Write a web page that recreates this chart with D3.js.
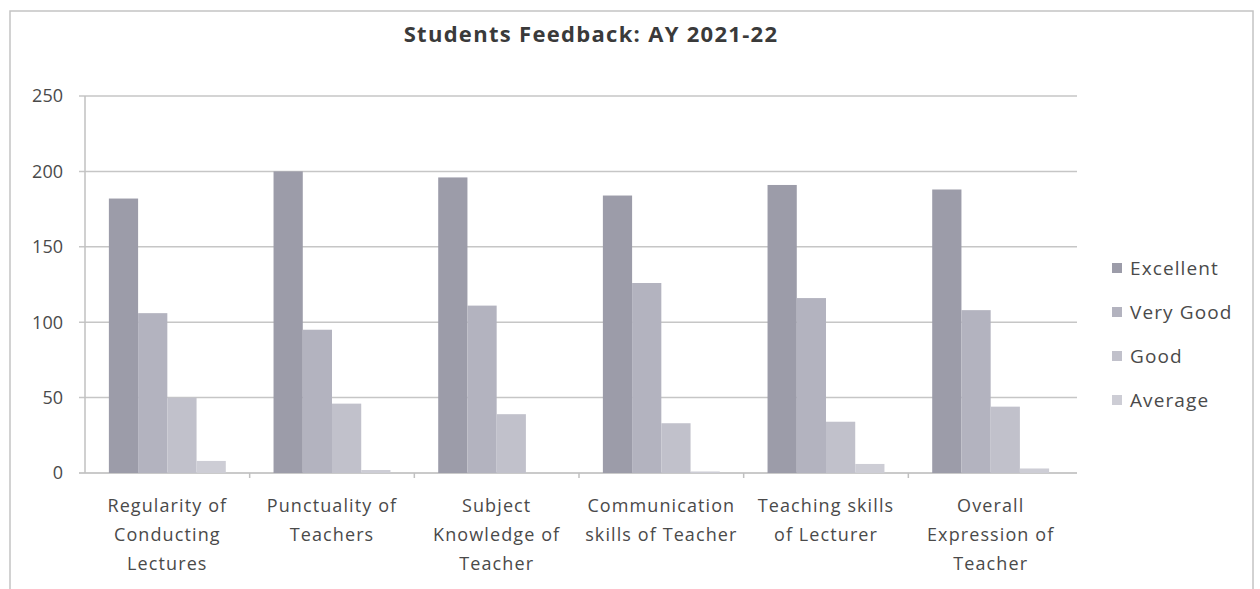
<!DOCTYPE html>
<html>
<head>
<meta charset="utf-8">
<script src="https://cdn.jsdelivr.net/npm/d3@7"></script>
<style>
    body { margin: 0; background: #fff; }
    svg { display: block; }
    text { font-family: "Open Sans", Lato, sans-serif; }
</style>
</head>
<body>
<script>
// ---------------- data ----------------
const categories = [
    ['Regularity of', 'Conducting', 'Lectures'],
    ['Punctuality of', 'Teachers'],
    ['Subject', 'Knowledge of', 'Teacher'],
    ['Communication', 'skills of Teacher'],
    ['Teaching skills', 'of Lecturer'],
    ['Overall', 'Expression of', 'Teacher']
]
const seriesNames = ['Excellent', 'Very Good', 'Good', 'Average']
const excellent = [182, 200, 196, 184, 191, 188]
const veryGood = [106, 95, 111, 126, 116, 108]
const good = [50, 46, 39, 33, 34, 44]
const average = [8, 2, 0, 1, 6, 3]
const yTicks = [0, 50, 100, 150, 200, 250]
const colors = ['#9c9ca9', '#b3b3bf', '#c1c1cb', '#cdcdd5']

const W = 1260, H = 589
const margin = { top: 96, right: 187, bottom: 116, left: 85 }
const width = W - margin.left - margin.right
const height = H - margin.top - margin.bottom

const values = [excellent, veryGood, good, average]
const keys = categories.map((c, i) => i)

const svg = d3.select('body').append('svg')
    .attr('width', W)
    .attr('height', H)

// outer frame
svg.append('rect')
    .attr('x', 10).attr('y', 11)
    .attr('width', 1243).attr('height', 600)
    .attr('fill', 'none')
    .attr('stroke', '#c4c4c4')
    .attr('stroke-width', 1.5)

svg.append('text')
    .attr('x', 591)
    .attr('y', 42)
    .attr('text-anchor', 'middle')
    .attr('font-size', 22)
    .attr('font-weight', 'bold')
    .attr('letter-spacing', 1.3)
    .attr('fill', '#3a3a3a')
    .text('Students Feedback: AY 2021-22')

const g = svg.append('g')
    .attr('transform', 'translate(' + margin.left + ',' + margin.top + ')')

const y = d3.scaleLinear()
    .domain([0, 250])
    .range([height, 0])

const x = d3.scaleBand()
    .domain(keys)
    .range([0, width])
    .paddingInner(0.29)
    .paddingOuter(0.145)

const xSub = d3.scaleBand()
    .domain(seriesNames)
    .range([0, x.bandwidth()])

// gridlines
g.append('g')
    .selectAll('line')
    .data(yTicks)
    .enter().append('line')
    .attr('x1', -6)
    .attr('x2', width + 4)
    .attr('y1', d => y(d))
    .attr('y2', d => y(d))
    .attr('stroke', d => d === 0 ? '#b8b8b8' : '#c6c6c6')
    .attr('stroke-width', 1.5)

// y axis line
g.append('line')
    .attr('x1', 0).attr('x2', 0)
    .attr('y1', 0).attr('y2', height)
    .attr('stroke', '#c0c0c0')
    .attr('stroke-width', 1.5)

g.append('g')
    .selectAll('text')
    .data(yTicks)
    .enter().append('text')
    .attr('x', -22)
    .attr('y', d => y(d))
    .attr('dy', '0.35em')
    .attr('text-anchor', 'end')
    .attr('font-size', 18)
    .attr('fill', '#4a4a4a')
    .text(d => d)

// category boundary ticks
g.append('g')
    .selectAll('line')
    .data(keys.slice(1))
    .enter().append('line')
    .attr('x1', d => x(d) - x.step() * x.paddingInner() / 2)
    .attr('x2', d => x(d) - x.step() * x.paddingInner() / 2)
    .attr('y1', height)
    .attr('y2', height + 5)
    .attr('stroke', '#c0c0c0')
    .attr('stroke-width', 1.5)

// bars
const groups = g.append('g')
    .selectAll('g')
    .data(seriesNames)
    .enter().append('g')
    .attr('fill', (d, i) => colors[i])

groups.selectAll('rect')
    .data((d, i) => values[i].map((v, j) => ({ key: d, cat: j, value: v })))
    .enter().append('rect')
    .attr('x', d => x(d.cat) + xSub(d.key))
    .attr('y', d => y(d.value))
    .attr('width', xSub.bandwidth())
    .attr('height', d => height - y(d.value))

// category labels
const labels = g.append('g')
    .selectAll('text')
    .data(categories)
    .enter().append('text')
    .attr('text-anchor', 'middle')
    .attr('font-size', 18)
    .attr('letter-spacing', 1.1)
    .attr('fill', '#4a4a4a')
    .attr('transform', (d, i) => 'translate(' + (x(i) + x.bandwidth() / 2) + ',' + (height + 39) + ')')

labels.selectAll('tspan')
    .data(d => d)
    .enter().append('tspan')
    .attr('x', 0)
    .attr('y', (d, i) => i * 29)
    .text(d => d)

// legend
const legend = svg.append('g')
    .attr('transform', 'translate(1112, 268)')

const items = legend.selectAll('g')
    .data(seriesNames)
    .enter().append('g')
    .attr('transform', (d, i) => 'translate(0,' + (i * 44) + ')')

items.append('rect')
    .attr('x', 0)
    .attr('y', -5)
    .attr('width', 10)
    .attr('height', 10)
    .attr('fill', (d, i) => colors[i])

items.append('text')
    .attr('x', 18)
    .attr('dy', '0.35em')
    .attr('font-size', 19)
    .attr('letter-spacing', 1.1)
    .attr('fill', '#4a4a4a')
    .text(d => d)
</script>
</body>
</html>
